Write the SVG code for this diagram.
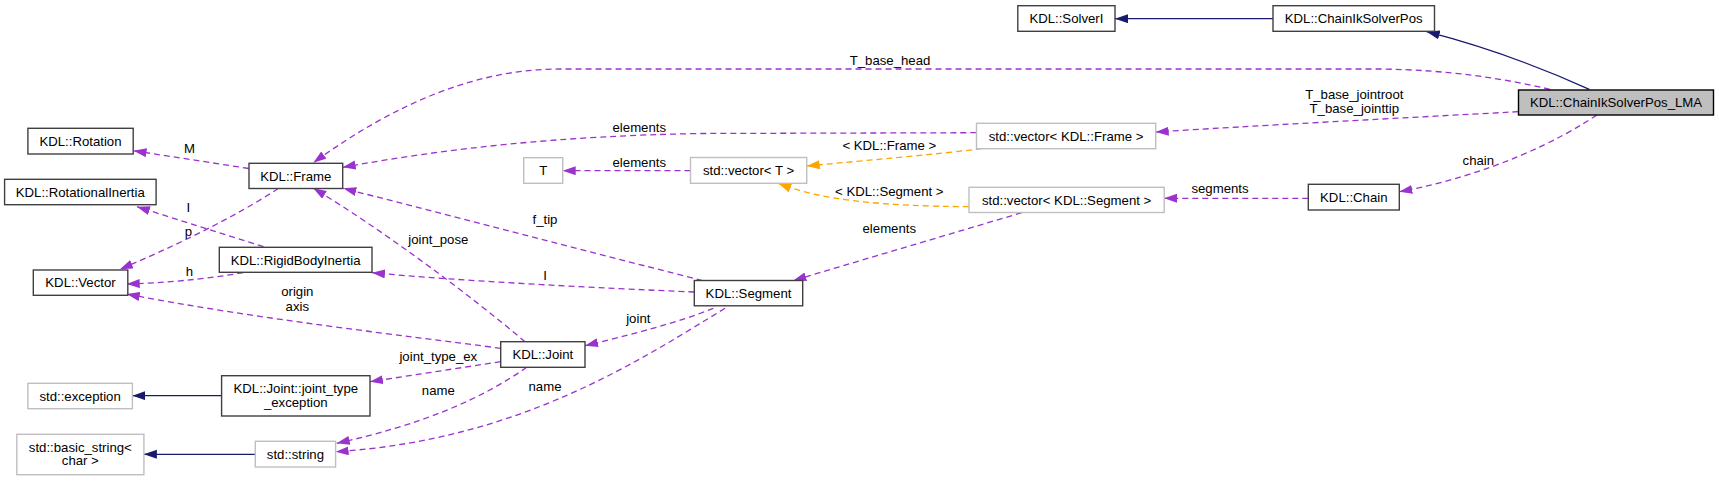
<svg xmlns="http://www.w3.org/2000/svg" width="1719" height="481" viewBox="0 0 1719 481">
<style>
text{font-family:"Liberation Sans",Arial,Helvetica,sans-serif;font-size:13.2px;fill:#000}
.n rect{fill:#fff;stroke:#404040;stroke-width:1.4}
.n.g rect{stroke:#bfbfbf}
.n.cur rect{fill:#bfbfbf;stroke:#000}
.n text{text-anchor:middle}
.e{fill:none;stroke-width:1.3}
.p{stroke:#9a32cd;stroke-dasharray:6,4;marker-end:url(#ap)}
.o{stroke:#ffa500;stroke-dasharray:6,4;marker-end:url(#ao)}
.b{stroke:#191970;marker-end:url(#ab)}
.l text{text-anchor:middle}
</style>
<defs>
<marker id="ap" markerUnits="userSpaceOnUse" markerWidth="14" markerHeight="10" refX="13" refY="4.5" orient="auto"><path d="M0,0L13,4.5L0,9z" fill="#9a32cd"/></marker>
<marker id="ao" markerUnits="userSpaceOnUse" markerWidth="14" markerHeight="10" refX="13" refY="4.5" orient="auto"><path d="M0,0L13,4.5L0,9z" fill="#ffa500"/></marker>
<marker id="ab" markerUnits="userSpaceOnUse" markerWidth="14" markerHeight="10" refX="13" refY="4.5" orient="auto"><path d="M0,0L13,4.5L0,9z" fill="#191970"/></marker>
</defs>
<rect width="1719" height="481" fill="#fff"/>
<g id="edges">
<path class="e p" d="M248.8,168.5L133.5,150.7"/>
<path class="e p" d="M263.5,246.7L137,206.7"/>
<path class="e p" d="M278.3,188.5C230,220 170,248 120,269.3"/>
<path class="e p" d="M1550,89.3C1500,78 1450,70 1380,69L560,69C480,69 400,100 313.3,162.7"/>
<path class="e p" d="M976.3,132.7L700,133.5C560,136 450,148 342.7,167.3"/>
<path class="e p" d="M690.5,170.7L562.7,170.7"/>
<path class="e p" d="M702.5,280.7L343.3,188.3"/>
<path class="e p" d="M525,341.7C470,295 380,228 313.3,188.3"/>
<path class="e p" d="M243.3,272.7C200,280 160,283 126.7,284"/>
<path class="e p" d="M500.7,348.3C400,335 250,318 126.7,294"/>
<path class="e p" d="M694.3,292C600,288 460,281 372,272.7"/>
<path class="e p" d="M713.3,308.3C680,322 630,335 585,345.7"/>
<path class="e p" d="M500.7,361.7L370,381.7"/>
<path class="e b" d="M221.6,395.7L132.4,395.7"/>
<path class="e b" d="M255.3,454.3L143.9,454.3"/>
<path class="e p" d="M526.7,367.3C480,400 420,425 336.7,443.3"/>
<path class="e p" d="M725,308.3C640,360 520,440 335.6,451.7"/>
<path class="e b" d="M1273,18.7L1115,18.7"/>
<path class="e o" d="M981.7,148.7C930,155 870,160 806.7,166"/>
<path class="e o" d="M969,206.7C880,206 820,200 778.3,183.3"/>
<path class="e p" d="M1021.7,212.7L793.3,280.5"/>
<path class="e p" d="M1518.3,111.7C1400,118 1250,126 1155.7,132"/>
<path class="e b" d="M1589.3,89.3C1540,67 1490,48 1426.7,31.7"/>
<path class="e p" d="M1596.7,115C1560,140 1490,175 1399.3,191.7"/>
<path class="e p" d="M1308.3,198.3L1164.2,198.3"/>
</g>
<g id="labels" class="l">
<text x="189.4" y="153">M</text>
<text x="188.3" y="212">I</text>
<text x="188.3" y="236.4">p</text>
<text x="890" y="65.4">T_base_head</text>
<text x="639.3" y="132">elements</text>
<text x="639.3" y="167.4">elements</text>
<text x="545" y="224">f_tip</text>
<text x="438.3" y="244">joint_pose</text>
<text x="189.3" y="276.4">h</text>
<text x="297.3" y="296.4">origin</text>
<text x="297.3" y="310.7">axis</text>
<text x="545" y="279.7">I</text>
<text x="638.3" y="323">joint</text>
<text x="438.3" y="361.4">joint_type_ex</text>
<text x="438.3" y="395">name</text>
<text x="545" y="391.4">name</text>
<text x="889.3" y="149.7">&lt; KDL::Frame &gt;</text>
<text x="889.3" y="195.7">&lt; KDL::Segment &gt;</text>
<text x="889.3" y="233">elements</text>
<text x="1354.3" y="99.4">T_base_jointroot</text>
<text x="1354.3" y="113.4">T_base_jointtip</text>
<text x="1478.3" y="165.4">chain</text>
<text x="1220" y="193.4">segments</text>
</g>
<g id="n_lma" class="n cur"><rect x="1518.5" y="90" width="195" height="25"/><text x="1616" y="107.2">KDL::ChainIkSolverPos_LMA</text></g>
<g id="n_chainiksolverpos" class="n"><rect x="1273" y="5.7" width="161.5" height="25.6"/><text x="1353.7" y="23.2">KDL::ChainIkSolverPos</text></g>
<g id="n_solveri" class="n"><rect x="1017.8" y="5.7" width="97.2" height="25.6"/><text x="1066.4" y="23.2">KDL::SolverI</text></g>
<g id="n_vecframe" class="n g"><rect x="976.5" y="123.3" width="179.2" height="25.4"/><text x="1066.1" y="140.7">std::vector&lt; KDL::Frame &gt;</text></g>
<g id="n_vect" class="n g"><rect x="690.5" y="157.5" width="116.2" height="25.8"/><text x="748.6" y="175.1">std::vector&lt; T &gt;</text></g>
<g id="n_t" class="n g"><rect x="523.7" y="157.7" width="39" height="25.6"/><text x="543.2" y="175.2">T</text></g>
<g id="n_vecseg" class="n g"><rect x="969" y="187.3" width="195.2" height="25.2"/><text x="1066.6" y="204.6">std::vector&lt; KDL::Segment &gt;</text></g>
<g id="n_chain" class="n"><rect x="1308.3" y="184.3" width="91" height="25.7"/><text x="1353.8" y="201.9">KDL::Chain</text></g>
<g id="n_frame" class="n"><rect x="249" y="163.3" width="93.7" height="25.2"/><text x="295.8" y="180.6">KDL::Frame</text></g>
<g id="n_rotation" class="n"><rect x="27.9" y="128.3" width="105.3" height="25.7"/><text x="80.5" y="145.9">KDL::Rotation</text></g>
<g id="n_rotinertia" class="n"><rect x="4.6" y="179.3" width="151.5" height="25.4"/><text x="80.3" y="196.7">KDL::RotationalInertia</text></g>
<g id="n_vector" class="n"><rect x="33.3" y="270" width="94.5" height="25.3"/><text x="80.5" y="287.3">KDL::Vector</text></g>
<g id="n_rbi" class="n"><rect x="219.3" y="247.3" width="152.7" height="25"/><text x="295.6" y="264.5">KDL::RigidBodyInertia</text></g>
<g id="n_segment" class="n"><rect x="694.3" y="280.5" width="108.4" height="25.3"/><text x="748.5" y="297.8">KDL::Segment</text></g>
<g id="n_joint" class="n"><rect x="500.7" y="341.7" width="84.3" height="25.6"/><text x="542.8" y="359.2">KDL::Joint</text></g>
<g id="n_jte" class="n"><rect x="221.6" y="375.7" width="148.4" height="40.3"/><text x="295.8" y="392.7">KDL::Joint::joint_type</text><text x="295.8" y="407.4">_exception</text></g>
<g id="n_exception" class="n g"><rect x="27.9" y="383.3" width="104.5" height="25.4"/><text x="80.1" y="400.7">std::exception</text></g>
<g id="n_basicstring" class="n g"><rect x="16.8" y="434.3" width="127.1" height="40.4"/><text x="80.3" y="451.7">std::basic_string&lt;</text><text x="80.3" y="465">char &gt;</text></g>
<g id="n_string" class="n g"><rect x="255.3" y="441.3" width="80.3" height="25.7"/><text x="295.4" y="458.9">std::string</text></g>
</svg>
